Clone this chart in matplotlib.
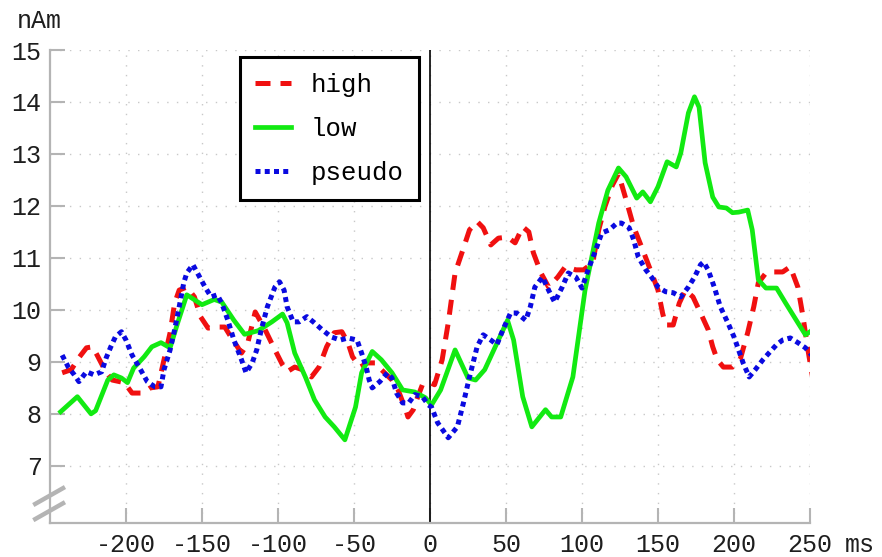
import matplotlib
matplotlib.use("Agg")
import matplotlib.pyplot as plt
import numpy as np

# ---- data ----
high_t = [-242, -236, -231, -226, -222, -219, -213, -209, -201, -196, -189, -184, -179, -175,
          -171, -168, -165, -160, -155, -151, -146, -140, -135, -131, -124, -120, -115, -109,
          -102, -97, -94, -89, -84, -78, -73, -68, -63, -58, -54, -51, -46, -41, -36, -32,
          -25, -21, -16, -14.5, -11, -8, -5, 0, 3, 8, 12, 16.5, 21, 26, 31, 35, 40, 45, 51,
          56, 61, 65, 68, 73, 78, 84, 89, 96, 101, 107, 111, 115, 120, 124, 129, 134, 140,
          145, 150, 153, 155, 160, 164, 168, 173, 178, 183, 186, 189, 193, 199, 204, 209,
          213, 216, 221, 226, 232, 237, 242, 245, 249, 252]
high_v = [8.79, 8.85, 9.08, 9.27, 9.29, 9.13, 8.79, 8.65, 8.60, 8.40, 8.40, 8.50, 8.52, 9.04,
          9.56, 10.13, 10.38, 10.44, 10.25, 9.87, 9.65, 9.67, 9.67, 9.48, 9.17, 9.35, 9.96, 9.65,
          9.23, 8.94, 8.81, 8.90, 8.85, 8.71, 8.90, 9.29, 9.56, 9.58, 9.37, 9.10, 8.90, 8.98,
          8.98, 8.85, 8.65, 8.46, 8.08, 7.94, 8.08, 8.33, 8.56, 8.60, 8.56, 9.04, 9.75, 10.71,
          11.10, 11.54, 11.70, 11.58, 11.25, 11.38, 11.40, 11.29, 11.60, 11.50, 11.10, 10.71,
          10.44, 10.63, 10.83, 10.77, 10.77, 10.90, 11.54, 11.98, 12.40, 12.62, 12.12, 11.60,
          11.15, 10.77, 10.38, 9.94, 9.71, 9.71, 10.13, 10.38, 10.25, 9.94, 9.62, 9.29, 9.04,
          8.90, 8.90, 9.04, 9.56, 10.06, 10.52, 10.71, 10.73, 10.73, 10.83, 10.44, 9.94,
          9.17, 8.65]

low_t = [-243, -232, -223, -220, -212, -208, -203, -199, -195, -188, -183, -177, -171, -166,
         -160, -150, -142, -137, -129, -122, -113, -104, -97, -94, -89, -82, -76, -69, -63,
         -56, -49, -45, -38, -32, -25, -18, -10, -3, 1, 7, 16.5, 25, 30, 36, 45, 51, 55, 61,
         67, 76, 80, 86, 94, 102, 111, 117, 124, 129, 136, 140, 145, 150, 156, 162, 165, 170,
         174, 177, 181, 186, 190, 195, 199, 203, 209, 212, 216, 221, 228, 234, 241, 247, 250]
low_v = [8.04, 8.33, 8.00, 8.06, 8.65, 8.75, 8.69, 8.60, 8.88, 9.10, 9.29, 9.37, 9.27, 9.75,
         10.29, 10.10, 10.20, 10.15, 9.80, 9.53, 9.60, 9.77, 9.92, 9.75, 9.17, 8.71, 8.27, 7.94,
         7.75, 7.50, 8.13, 8.79, 9.20, 9.04, 8.79, 8.46, 8.42, 8.31, 8.17, 8.46, 9.23, 8.69,
         8.65, 8.85, 9.42, 9.80, 9.42, 8.33, 7.75, 8.08, 7.94, 7.94, 8.71, 10.38, 11.67, 12.30,
         12.73, 12.56, 12.15, 12.27, 12.08, 12.37, 12.85, 12.75, 13.02, 13.79, 14.10, 13.90,
         12.83, 12.17, 11.98, 11.96, 11.87, 11.88, 11.92, 11.54, 10.58, 10.42, 10.42, 10.13,
         9.80, 9.52, 9.58]

pseudo_t = [-242, -238, -234, -231, -226, -221, -216, -213, -210, -207, -203, -200, -196, -191,
            -186, -181, -177, -175, -171, -168, -165, -162, -160, -156, -153, -148, -144, -140,
            -137, -133, -129, -124, -121, -117, -114, -111, -107, -102, -99, -96, -94, -90, -86,
            -81, -76, -71, -65, -59, -54, -48, -45, -42, -40, -38, -33, -28, -25, -22, -18, -14,
            -10, -5, -1, 1, 5, 12, 18, 22, 26, 31, 35, 40, 44, 48, 53, 57, 63, 66, 69, 74, 78,
            82, 87, 91, 96, 100, 104, 109, 113, 118, 123, 126, 131, 134, 137, 142, 146, 150,
            155, 160, 165, 170, 174, 178, 180, 183, 187, 191, 196, 200, 203, 206, 210, 214,
            219, 223, 228, 232, 237, 242, 247, 252]
pseudo_v = [9.13, 8.90, 8.75, 8.62, 8.81, 8.75, 8.81, 9.08, 9.29, 9.48, 9.58, 9.42, 9.13, 8.88,
            8.62, 8.52, 8.52, 8.85, 9.23, 9.62, 10.06, 10.52, 10.71, 10.87, 10.71, 10.44, 10.25,
            10.29, 10.13, 9.80, 9.42, 9.04, 8.79, 8.98, 9.23, 9.62, 10.06, 10.44, 10.54, 10.38,
            10.06, 9.77, 9.77, 9.87, 9.75, 9.62, 9.48, 9.42, 9.46, 9.42, 9.17, 8.90, 8.65, 8.50,
            8.62, 8.79, 8.69, 8.40, 8.21, 8.21, 8.37, 8.33, 8.17, 8.13, 7.83, 7.54, 7.75, 8.21,
            8.71, 9.29, 9.52, 9.42, 9.33, 9.62, 9.94, 9.94, 9.80, 10.06, 10.44, 10.63, 10.38,
            10.15, 10.44, 10.71, 10.63, 10.42, 10.77, 11.15, 11.48, 11.54, 11.67, 11.67, 11.58,
            11.35, 11.02, 10.77, 10.62, 10.44, 10.35, 10.33, 10.25, 10.44, 10.63, 10.87, 10.92,
            10.77, 10.44, 10.06, 9.75, 9.48, 9.23, 8.98, 8.71, 8.85, 9.04, 9.17, 9.33, 9.42,
            9.46, 9.37, 9.27, 9.10]

labels = ["high", "low", "pseudo"]
x_ticks = [-200, -150, -100, -50, 0, 50, 100, 150, 200, 250]
y_ticks = [7, 8, 9, 10, 11, 12, 13, 14, 15]

# ---- figure ----
FONT = "Liberation Mono"
plt.rcParams["font.family"] = [FONT, "DejaVu Sans Mono"]
GREY = "#b4b4b4"
TXT = "#1e1e1e"

fig = plt.figure(figsize=(8.82, 5.57), dpi=100)
ax = fig.add_axes([50 / 882, 34 / 557, 760 / 882, 473 / 557])

ax.plot(high_t, high_v, color="#f01010", lw=3.6, linestyle=(0, (3.0, 2.0)),
        label=labels[0], solid_capstyle="butt", dash_capstyle="butt")
ax.plot(low_t, low_v, color="#12ea12", lw=3.4, linestyle="-", label=labels[1])
ax.plot(pseudo_t, pseudo_v, color="#0a0ae0", lw=3.6, linestyle=(0, (1.0, 0.85)),
        label=labels[2], dash_capstyle="butt")

ax.axvline(0, color="black", lw=1.2, zorder=1)

ax.set_xlim(-250, 250)
ax.set_ylim(5.9, 15)
ax.set_xticks(x_ticks)
ax.set_yticks(y_ticks)
ax.set_xticklabels([str(v) for v in x_ticks])
ax.set_yticklabels([str(v) for v in y_ticks])

ax.grid(True, color="#c8c8c8", linestyle=(0, (1, 6)), lw=1.0, zorder=0)
ax.set_axisbelow(True)

for s in ("top", "right"):
    ax.spines[s].set_visible(False)
for s in ("left", "bottom"):
    ax.spines[s].set_color(GREY)
    ax.spines[s].set_linewidth(1.6)

ax.tick_params(axis="both", direction="in", length=11, width=1.5, color=GREY,
               labelsize=18, labelcolor=TXT)
ax.tick_params(axis="x", pad=7)
ax.tick_params(axis="y", pad=6)

# axis break marks
for y0, y1 in ((0.038, 0.076), (0.006, 0.044)):
    ax.plot([-0.022, 0.0197], [y0, y1], transform=ax.transAxes, color=GREY,
            lw=3.2, clip_on=False, solid_capstyle="butt")

fig.text(39 / 882, 1 - 21 / 557, "nAm", ha="center", va="center", fontsize=18,
         color=TXT)
fig.text(845 / 882, 1 - 545 / 557, "ms", ha="left", va="center", fontsize=18,
         color=TXT)

leg = ax.legend(loc="upper left", bbox_to_anchor=(0.25, 0.985), fontsize=18.5,
                frameon=True, fancybox=False, edgecolor="black", framealpha=1,
                handlelength=1.4, handletextpad=0.75, labelspacing=0.78,
                borderpad=0.6, borderaxespad=0)
leg.get_frame().set_linewidth(2.2)

fig.savefig("out.png", dpi=100)
